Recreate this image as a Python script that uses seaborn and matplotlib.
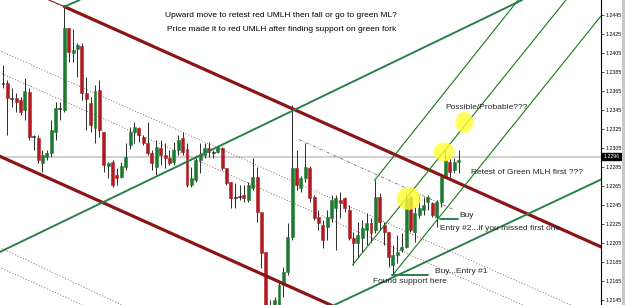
import matplotlib
matplotlib.use("Agg")
import matplotlib.pyplot as plt
from matplotlib.patches import Ellipse, Rectangle
import pandas as pd
import seaborn as sns

# ---------------- data (EUR/USD candles) ----------------
opens = [1.2374, 1.2374, 1.2358, 1.2358, 1.2356, 1.2345, 1.2364, 1.2318, 1.2316, 1.2289,
         1.2296, 1.2300, 1.2322, 1.2347, 1.2345, 1.2432, 1.2405, 1.2409, 1.2413, 1.2363,
         1.2353, 1.2326, 1.2366, 1.2322, 1.2286, 1.2290, 1.2277, 1.2275, 1.2285, 1.2308,
         1.2322, 1.2326, 1.2317, 1.2310, 1.2300, 1.2285, 1.2305, 1.2298, 1.2295, 1.2290,
         1.2303, 1.2316, 1.2304, 1.2266, 1.2271, 1.2293, 1.2298, 1.2305, 1.2301, 1.2301,
         1.2305, 1.2284, 1.2269, 1.2254, 1.2255, 1.2256, 1.2250, 1.2263, 1.2275, 1.2238,
         1.2196, 1.2140, 1.2135, 1.2140, 1.2161, 1.2175, 1.2211, 1.2284, 1.2263, 1.2274,
         1.2284, 1.2254, 1.2232, 1.2224, 1.2222, 1.2231, 1.2242, 1.2250, 1.2253, 1.2240,
         1.2210, 1.2205, 1.2210, 1.2219, 1.2226, 1.2219, 1.2254, 1.2224, 1.2217, 1.2182,
         1.2192, 1.2198, 1.2201, 1.2254, 1.2217, 1.2235, 1.2240, 1.2248, 1.2247, 1.2232,
         1.2248, 1.2275, 1.2290, 1.2282, 1.2290]
highs = [1.2393, 1.2377, 1.2368, 1.2363, 1.2359, 1.2379, 1.2368, 1.2319, 1.2319, 1.2303,
         1.2303, 1.2335, 1.2354, 1.2354, 1.2454, 1.2432, 1.2430, 1.2416, 1.2416, 1.2380,
         1.2359, 1.2371, 1.2377, 1.2322, 1.2290, 1.2293, 1.2284, 1.2290, 1.2310, 1.2327,
         1.2333, 1.2327, 1.2319, 1.2333, 1.2303, 1.2314, 1.2314, 1.2310, 1.2303, 1.2311,
         1.2319, 1.2322, 1.2310, 1.2285, 1.2298, 1.2310, 1.2310, 1.2311, 1.2303, 1.2306,
         1.2306, 1.2284, 1.2269, 1.2268, 1.2266, 1.2266, 1.2269, 1.2295, 1.2285, 1.2238,
         1.2196, 1.2145, 1.2148, 1.2166, 1.2180, 1.2226, 1.2350, 1.2303, 1.2276, 1.2310,
         1.2286, 1.2256, 1.2240, 1.2229, 1.2240, 1.2256, 1.2256, 1.2259, 1.2254, 1.2245,
         1.2217, 1.2227, 1.2229, 1.2237, 1.2231, 1.2271, 1.2258, 1.2227, 1.2217, 1.2203,
         1.2214, 1.2216, 1.2258, 1.2256, 1.2243, 1.2256, 1.2254, 1.2256, 1.2248, 1.2250,
         1.2277, 1.2303, 1.2295, 1.2295, 1.2303]
lows = [1.2368, 1.2319, 1.2348, 1.2343, 1.2340, 1.2335, 1.2314, 1.2303, 1.2289, 1.2280,
        1.2293, 1.2296, 1.2314, 1.2335, 1.2343, 1.2396, 1.2396, 1.2380, 1.2356, 1.2324,
        1.2322, 1.2310, 1.2317, 1.2280, 1.2274, 1.2264, 1.2266, 1.2274, 1.2282, 1.2304,
        1.2310, 1.2311, 1.2308, 1.2298, 1.2282, 1.2277, 1.2287, 1.2284, 1.2287, 1.2287,
        1.2298, 1.2298, 1.2264, 1.2264, 1.2269, 1.2279, 1.2295, 1.2296, 1.2295, 1.2300,
        1.2282, 1.2266, 1.2242, 1.2242, 1.2250, 1.2248, 1.2248, 1.2261, 1.2227, 1.2179,
        1.2126, 1.2120, 1.2130, 1.2137, 1.2148, 1.2171, 1.2208, 1.2261, 1.2259, 1.2269,
        1.2248, 1.2229, 1.2219, 1.2200, 1.2208, 1.2227, 1.2198, 1.2231, 1.2238, 1.2208,
        1.2182, 1.2189, 1.2196, 1.2203, 1.2206, 1.2216, 1.2219, 1.2203, 1.2180, 1.2171,
        1.2184, 1.2196, 1.2200, 1.2217, 1.2206, 1.2231, 1.2235, 1.2240, 1.2232, 1.2222,
        1.2243, 1.2274, 1.2275, 1.2279, 1.2279]
closes = [1.2373, 1.2358, 1.2357, 1.2354, 1.2343, 1.2365, 1.2317, 1.2317, 1.2293, 1.2298,
          1.2300, 1.2324, 1.2347, 1.2346, 1.2432, 1.2406, 1.2408, 1.2414, 1.2363, 1.2357,
          1.2329, 1.2365, 1.2324, 1.2287, 1.2289, 1.2266, 1.2274, 1.2286, 1.2296, 1.2322,
          1.2327, 1.2319, 1.2310, 1.2300, 1.2289, 1.2306, 1.2298, 1.2295, 1.2289, 1.2303,
          1.2314, 1.2301, 1.2266, 1.2274, 1.2293, 1.2299, 1.2305, 1.2301, 1.2300, 1.2306,
          1.2284, 1.2268, 1.2253, 1.2253, 1.2254, 1.2253, 1.2266, 1.2275, 1.2238, 1.2195,
          1.2137, 1.2125, 1.2145, 1.2161, 1.2175, 1.2211, 1.2284, 1.2266, 1.2274, 1.2285,
          1.2253, 1.2231, 1.2226, 1.2208, 1.2232, 1.2250, 1.2253, 1.2247, 1.2242, 1.2210,
          1.2205, 1.2213, 1.2221, 1.2226, 1.2216, 1.2254, 1.2227, 1.2217, 1.2190, 1.2192,
          1.2196, 1.2201, 1.2253, 1.2219, 1.2237, 1.2242, 1.2245, 1.2254, 1.2235, 1.2248,
          1.2275, 1.2293, 1.2280, 1.2290, 1.2293]

price_ticks = [1.2445, 1.2425, 1.2405, 1.2385, 1.2365, 1.2345, 1.2325, 1.2305,
               1.2285, 1.2265, 1.2245, 1.2225, 1.2205, 1.2185, 1.2165, 1.2145]
current_price = 1.2296

# drawn objects: (bar index, price) end points
red_umlh_thin = ([9.5, 14.0], [1.2463, 1.2454])
red_umlh = ([14.0, 137.0], [1.2454, 1.2200])
red_lmlh = ([-1.0, 80.0], [1.2297, 1.2129])
red_dotted = [([-1.0, 131.0], [1.2408, 1.2137]),
              ([-1.0, 120.0], [1.2385, 1.2137]),
              ([-1.0, 27.0], [1.2201, 1.2140]),
              ([-1.0, 18.0], [1.2180, 1.2140])]
gray_dashdot = ([67.6, 103.0], [1.2314, 1.2240])
green_big_upper = ([-1.0, 118.5], [1.2195, 1.2461])
green_short = ([14.0, 17.5], [1.2454, 1.2461])
green_lower = ([75.7, 137.0], [1.2140, 1.2273])
green_fork = [([84.8, 117.6], [1.2271, 1.2461]),
              ([79.8, 128.5], [1.2182, 1.2461]),
              ([88.9, 137.0], [1.2171, 1.2447])]
buy1_line = ([88.9, 97.1], [1.2171, 1.2171])
buy2_line = ([99.8, 103.9], [1.2230, 1.2230])
circles = [(92.6, 1.2252, 5.5, 0.0024), (100.7, 1.2301, 4.8, 0.0020), (105.3, 1.2332, 4.1, 0.0022)]

# ---------------- figure ----------------
sns.set_theme(style="white")
plt.rcParams["font.family"] = ["Liberation Sans", "DejaVu Sans"]

fig = plt.figure(figsize=(6.25, 3.05), dpi=100)
fig.patch.set_facecolor("white")
ax = fig.add_axes([0, 0, 601 / 625, 1])
ax.set_facecolor("white")

ax.axhline(current_price, color="#c4c4c4", lw=1.1, zorder=0)

RED = "#b01c22"
GREEN = "#1f7a31"
for i, (o, h, l, c) in enumerate(zip(opens, highs, lows, closes)):
    ax.vlines(i, l, h, color="#2a2a2a", lw=0.7, zorder=2)
    col = GREEN if c >= o else RED
    bottom = min(o, c)
    height = max(abs(c - o), 0.00009)
    ax.add_patch(Rectangle((i - 0.34, bottom), 0.68, height, facecolor=col,
                           edgecolor="#222222" if abs(c - o) < 0.00015 else col,
                           lw=0.4, zorder=3))


def draw(line, color, lw, ls="-", z=4):
    df = pd.DataFrame({"x": line[0], "y": line[1]})
    sns.lineplot(data=df, x="x", y="y", ax=ax, color=color, lw=lw, linestyle=ls,
                 sort=False, estimator=None, legend=False, zorder=z)


for ln in red_dotted:
    draw(ln, "#a86a6a", 0.6, (0, (1.5, 2.0)), 1)
draw(gray_dashdot, "#707070", 0.6, (0, (4, 2, 1, 2)), 1)
draw(red_umlh_thin, "#8c1414", 0.8)
draw(red_umlh, "#8c1414", 2.3)
draw(red_lmlh, "#8c1414", 2.3)
draw(green_big_upper, "#2a8048", 1.4)
draw(green_short, "#2a8048", 1.4)
draw(green_lower, "#2a8048", 1.4)
for ln in green_fork:
    draw(ln, "#157a15", 0.8)
draw(buy1_line, "#2a8048", 1.4)
draw(buy2_line, "#2a8048", 1.4)

for cx, cy, w, h in circles:
    ax.add_patch(Ellipse((cx, cy), w, h, facecolor="#ffff30", edgecolor="none",
                         alpha=0.8, zorder=6))

fs = 6.0
ax.text(63.5, 1.24447, "Upward move to retest red UMLH then fall or go to green ML?",
        ha="center", va="center", fontsize=fs, color="black", zorder=7)
ax.text(63.7, 1.24297, "Price made it to red UMLH after finding support on green fork",
        ha="center", va="center", fontsize=fs, color="black", zorder=7)
ax.text(100.9, 1.23483, "Possible/Probable???", ha="left", va="center", fontsize=fs, zorder=7)
ax.text(106.8, 1.22791, "Retest of Green MLH first ???", ha="left", va="center", fontsize=fs, zorder=7)
ax.text(104.1, 1.22339, "Buy", ha="left", va="center", fontsize=fs, zorder=7)
ax.text(99.8, 1.22202, "Entry #2...if you missed first one", ha="left", va="center", fontsize=fs, zorder=7)
ax.text(98.6, 1.21749, "Buy...Entry #1", ha="left", va="center", fontsize=fs, zorder=7)
ax.text(84.4, 1.21644, "Found support here", ha="left", va="center", fontsize=fs, zorder=7)

ax.set_xlim(-0.685, 136.5)
ax.set_ylim(1.21398, 1.2461)
for s in ["top", "left", "bottom"]:
    ax.spines[s].set_visible(False)
ax.spines["right"].set_color("black")
ax.spines["right"].set_linewidth(0.8)
ax.set_xticks([])
ax.yaxis.tick_right()
ax.set_yticks(price_ticks)
ax.set_yticklabels([f"{t:.4f}" for t in price_ticks])
ax.tick_params(axis="y", length=2, width=0.5, labelsize=3.8, pad=1.5, colors="black")
ax.set_xlabel("")
ax.set_ylabel("")

ax.text(1.004, current_price, f"{current_price:.4f}", transform=ax.get_yaxis_transform(),
        ha="left", va="center", fontsize=3.8, color="white", zorder=8,
        bbox=dict(boxstyle="square,pad=0.25", facecolor="black", edgecolor="black"))

fig.patches.append(Rectangle((622 / 625, 0), 3 / 625, 1, transform=fig.transFigure,
                             facecolor="#c8c8c8", edgecolor="none"))

fig.savefig("out.png", dpi=100)
